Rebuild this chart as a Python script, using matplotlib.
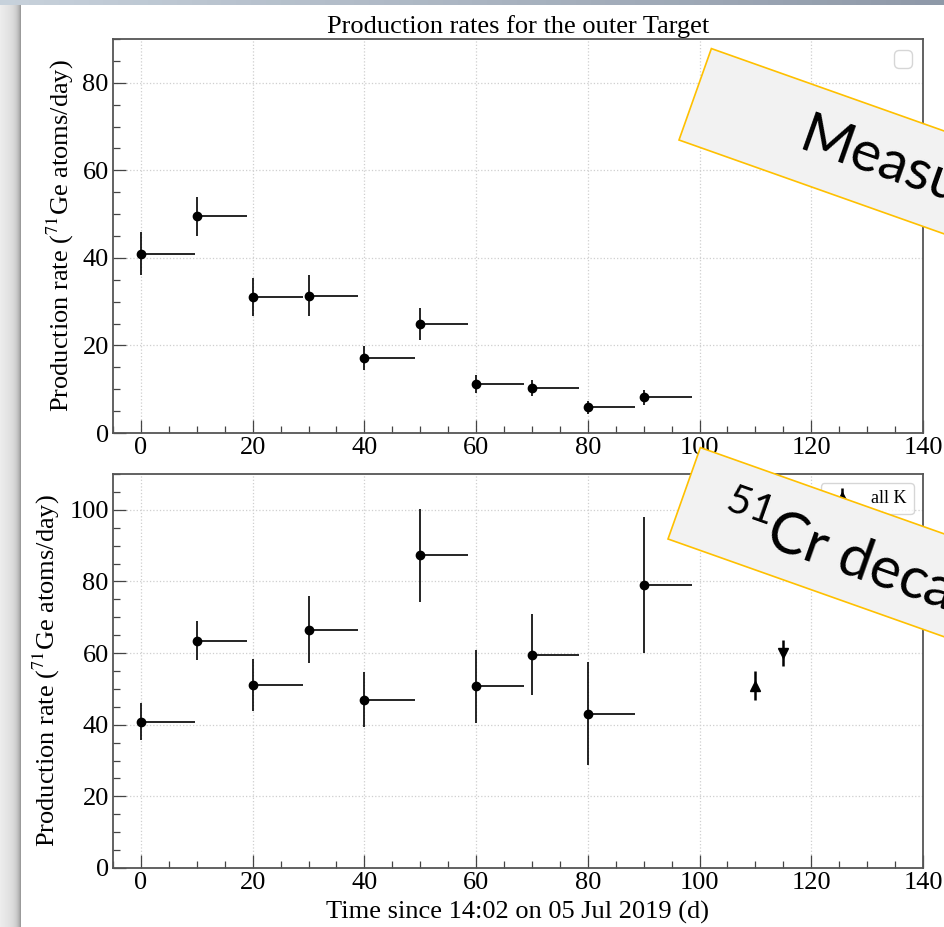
import matplotlib
matplotlib.use('Agg')
import matplotlib.pyplot as plt
import matplotlib.patches as mpatches
import matplotlib.transforms as mtransforms
from matplotlib.ticker import MultipleLocator
import numpy as np

plt.rcParams['font.family'] = ['Liberation Serif', 'DejaVu Serif']
plt.rcParams['mathtext.fontset'] = 'custom'
plt.rcParams['mathtext.rm'] = 'Lato'
plt.rcParams['mathtext.it'] = 'Lato:italic'
plt.rcParams['mathtext.bf'] = 'Lato:bold'

# run start (d), run end (d)
run_start = [0, 10, 20, 30, 40, 50, 60, 70, 80, 90]
run_end = [9.7, 18.9, 29.0, 38.8, 49.0, 58.6, 68.6, 78.5, 88.5, 98.6]

# outer target production rate
outer_rate = [41.0, 49.5, 31.1, 31.4, 17.1, 24.9, 11.2, 10.3, 5.9, 8.2]
outer_err = [5.0, 4.4, 4.4, 4.6, 2.7, 3.6, 2.0, 1.9, 1.5, 1.7]

# all K production rate
allk_rate = [40.9, 63.5, 51.1, 66.5, 47.0, 87.3, 50.7, 59.6, 43.1, 79.0]
allk_err = [5.2, 5.5, 7.2, 9.4, 7.7, 12.9, 10.2, 11.3, 14.4, 19.0]

# single points after the runs
up_x, up_rate, up_err = [110], [50.9], [4.0]
down_x, down_rate, down_err = [115], [60.0], [3.7]

ylabel = 'Production rate ($^{71}$Ge atoms/day)'
xlabel = 'Time since 14:02 on 05 Jul 2019 (d)'
FS = 19


def style_axes(ax, ymax):
    ax.set_xlim(-5, 140)
    ax.set_ylim(0, ymax)
    ax.xaxis.set_major_locator(MultipleLocator(20))
    ax.xaxis.set_minor_locator(MultipleLocator(5))
    ax.yaxis.set_major_locator(MultipleLocator(20))
    ax.yaxis.set_minor_locator(MultipleLocator(5))
    ax.tick_params(which='both', direction='in', top=False, right=False,
                   color='#444444', width=0.9, labelsize=FS, pad=3)
    ax.tick_params(which='major', length=9.5)
    ax.tick_params(which='minor', length=5)
    for s in ax.spines.values():
        s.set_color('#555555')
        s.set_linewidth(1.3)
    ax.grid(True, which='major', ls=':', color='#cfcfcf', lw=0.9)
    ax.set_axisbelow(True)
    ylab = ax.set_ylabel(ylabel, fontsize=FS, labelpad=5)
    ylab.set_math_fontfamily('stix')


fig = plt.figure(figsize=(9.45, 9.27), dpi=100)

# slide background bits
strip = fig.add_axes([0, 0, 21 / 945, 1 - 5 / 927], zorder=-5)
t = np.linspace(0, 1, 21)
shade = 0.93 - 0.10 * t - 0.22 * t ** 6
strip.imshow(np.dstack([shade, shade, shade]).reshape(1, -1, 3),
             aspect='auto', extent=[0, 1, 0, 1], interpolation='bilinear')
strip.axis('off')
band = fig.add_axes([0, 1 - 5 / 927, 1, 5 / 927], zorder=-5)
u = np.linspace(0, 1, 64)
band_rgb = np.stack([0.78 - 0.22 * u, 0.82 - 0.22 * u, 0.86 - 0.20 * u], axis=-1)
band.imshow(band_rgb[None, :, :], aspect='auto', extent=[0, 1, 0, 1])
band.axis('off')

xerr = [np.zeros(len(run_start)), np.array(run_end) - np.array(run_start)]

ax1 = fig.add_axes([113 / 945, 494 / 927, 810 / 945, 394 / 927])
ax1.errorbar(run_start, outer_rate, yerr=outer_err, xerr=xerr, fmt='o',
             color='black', ms=6, elinewidth=1.2, capsize=0)
style_axes(ax1, 90)
ax1.set_title('Production rates for the outer Target', fontsize=FS, pad=4)
ax1.legend(handles=[], loc='upper right', fontsize=16)

ax2 = fig.add_axes([113 / 945, 59 / 927, 810 / 945, 394 / 927])
ax2.errorbar(run_start, allk_rate, yerr=allk_err, xerr=xerr, fmt='o',
             color='black', ms=6, elinewidth=1.2, capsize=0)
ax2.errorbar(up_x, up_rate, yerr=up_err, fmt='^', color='black', ms=7,
             elinewidth=1.8, capsize=0, label='all K')
ax2.errorbar(down_x, down_rate, yerr=down_err, fmt='v', color='black', ms=7,
             elinewidth=1.8, capsize=0)
style_axes(ax2, 110)
ax2.set_xlabel(xlabel, fontsize=FS, labelpad=5)
ax2.legend(loc='upper right', fontsize=13, handlelength=1.6)

# rotated call-out boxes laid over the slide
px = fig.dpi_scale_trans
callouts = [((679, 787), 'Measured', 114, 31, 41),
            ((668, 388), '$^{51}$Cr decay', 42, 25, 42)]
for (x0, y0), txt, tu, tv, fs in callouts:
    tr = mtransforms.Affine2D().rotate_deg(-19.5).translate(x0, y0).scale(1 / 100) + px
    box = mpatches.Rectangle((0, 0), 520, 97, transform=tr, facecolor='#f2f2f2',
                             edgecolor='#ffc000', lw=1.2, zorder=20)
    fig.add_artist(box)
    fig.text(tu, tv, txt, transform=tr, rotation=-19.5, rotation_mode='anchor',
             ha='left', va='baseline', fontsize=fs, family='Lato', zorder=21)

fig.savefig('out.png', dpi=100)
